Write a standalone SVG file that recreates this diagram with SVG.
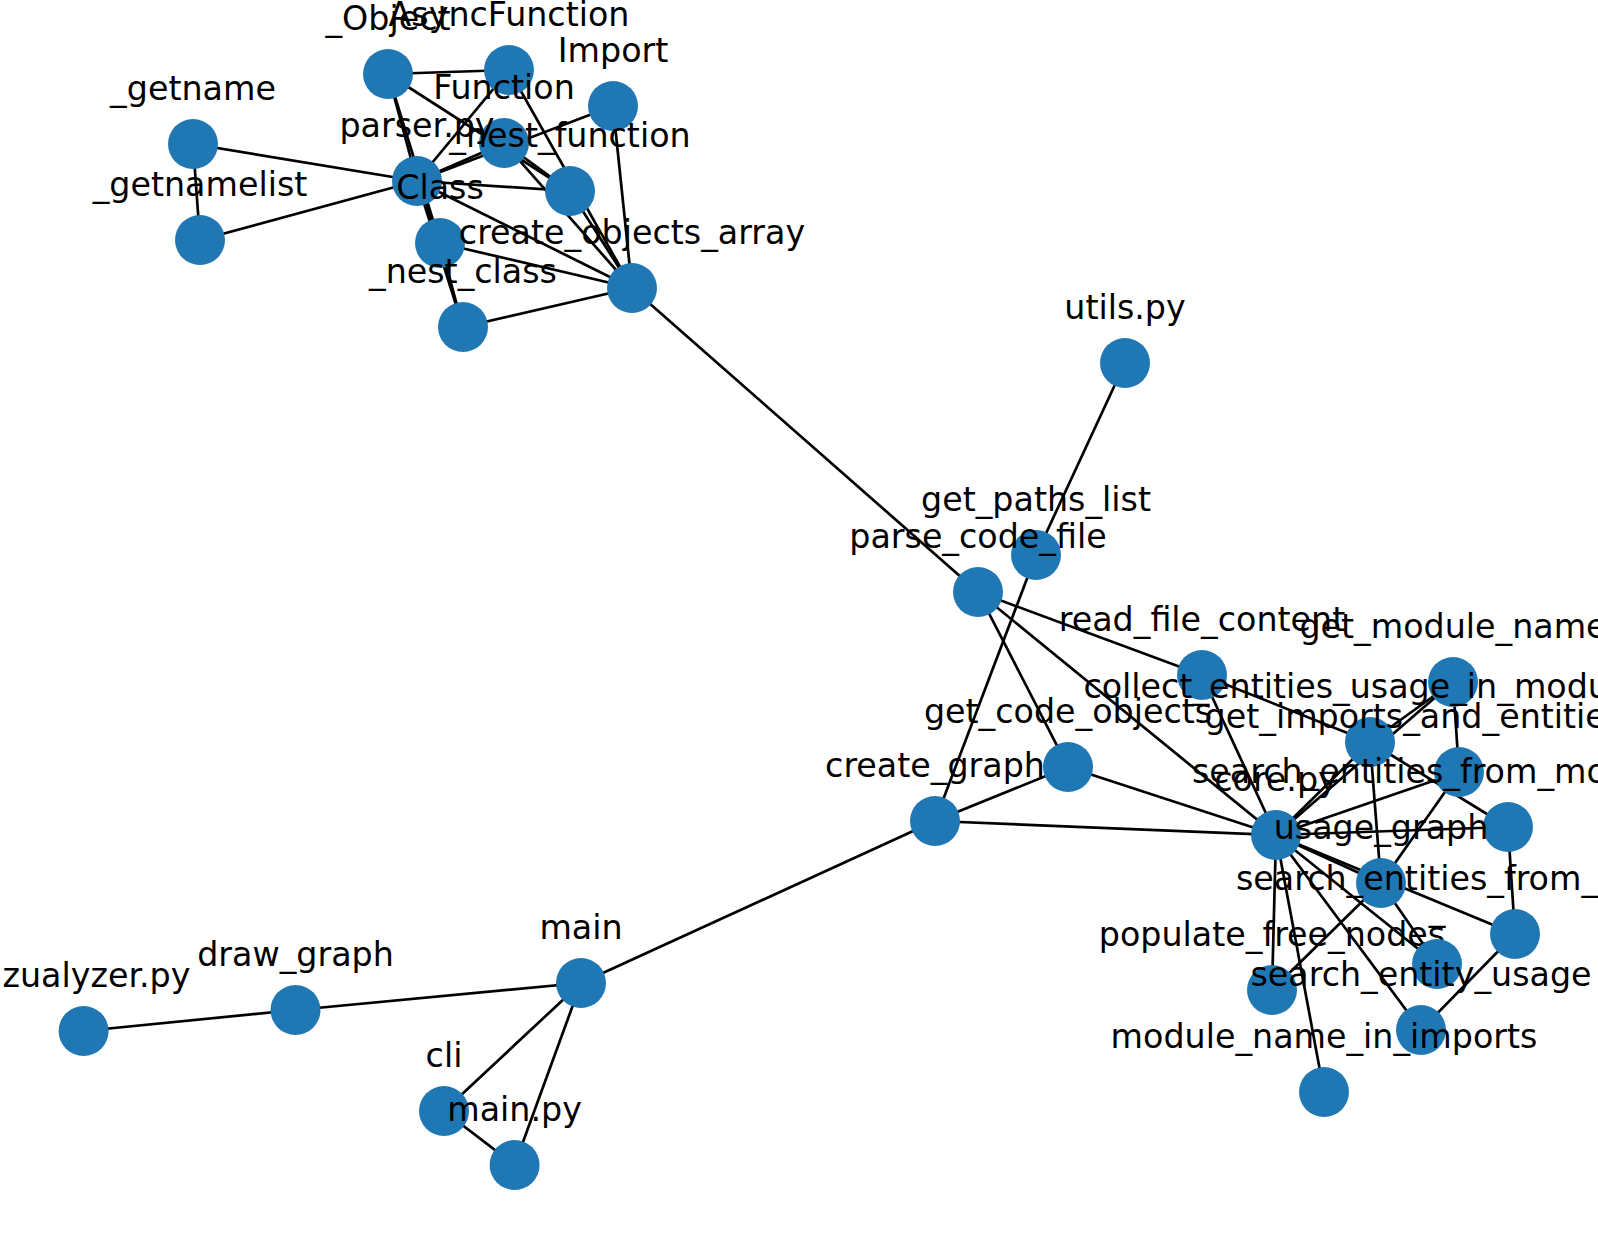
<svg xmlns="http://www.w3.org/2000/svg" width="1598" height="1234" viewBox="0 0 1598 1234">
<style>
.e line{stroke:#000;stroke-width:2.7}
.n circle{fill:#1f77b4}
.n text{font-family:"DejaVu Sans",sans-serif;font-size:33.3px;fill:#000;text-anchor:middle}
.n text.s{text-anchor:start}
</style>
<rect width="1598" height="1234" fill="#fff"/>
<g id="connectors" class="e">
<line x1="193" y1="144" x2="200" y2="240"/>
<line x1="193" y1="144" x2="417" y2="181"/>
<line x1="200" y1="240" x2="417" y2="181"/>
<line x1="388" y1="74" x2="509" y2="70"/>
<line x1="388" y1="74" x2="417" y2="181"/>
<line x1="388" y1="74" x2="440" y2="243"/>
<line x1="388" y1="74" x2="570" y2="191"/>
<line x1="417" y1="181" x2="509" y2="70"/>
<line x1="417" y1="181" x2="504" y2="143"/>
<line x1="417" y1="181" x2="613" y2="106"/>
<line x1="417" y1="181" x2="570" y2="191"/>
<line x1="417" y1="181" x2="440" y2="243"/>
<line x1="417" y1="181" x2="463" y2="327"/>
<line x1="417" y1="181" x2="632" y2="288"/>
<line x1="440" y1="243" x2="463" y2="327"/>
<line x1="440" y1="243" x2="632" y2="288"/>
<line x1="463" y1="327" x2="632" y2="288"/>
<line x1="504" y1="143" x2="570" y2="191"/>
<line x1="504" y1="143" x2="632" y2="288"/>
<line x1="509" y1="70" x2="632" y2="288"/>
<line x1="613" y1="106" x2="632" y2="288"/>
<line x1="570" y1="191" x2="632" y2="288"/>
<line x1="632" y1="288" x2="978" y2="592"/>
<line x1="1125" y1="363" x2="1036" y2="555"/>
<line x1="1036" y1="555" x2="935" y2="821"/>
<line x1="978" y1="592" x2="1202" y2="675"/>
<line x1="978" y1="592" x2="1068" y2="767"/>
<line x1="978" y1="592" x2="1276" y2="835"/>
<line x1="1202" y1="675" x2="1370" y2="742"/>
<line x1="1202" y1="675" x2="1276" y2="835"/>
<line x1="1068" y1="767" x2="935" y2="821"/>
<line x1="1068" y1="767" x2="1276" y2="835"/>
<line x1="935" y1="821" x2="1276" y2="835"/>
<line x1="935" y1="821" x2="581" y2="983"/>
<line x1="1276" y1="835" x2="1370" y2="742"/>
<line x1="1276" y1="835" x2="1453" y2="682"/>
<line x1="1370" y1="742" x2="1453" y2="682"/>
<line x1="1276" y1="835" x2="1459" y2="772"/>
<line x1="1276" y1="835" x2="1508" y2="827"/>
<line x1="1276" y1="835" x2="1381" y2="883"/>
<line x1="1276" y1="835" x2="1515" y2="934"/>
<line x1="1276" y1="835" x2="1437" y2="964"/>
<line x1="1276" y1="835" x2="1421" y2="1030"/>
<line x1="1276" y1="835" x2="1272" y2="990"/>
<line x1="1276" y1="835" x2="1324" y2="1092"/>
<line x1="1453" y1="682" x2="1459" y2="772"/>
<line x1="1370" y1="742" x2="1381" y2="883"/>
<line x1="1370" y1="742" x2="1508" y2="827"/>
<line x1="1459" y1="772" x2="1381" y2="883"/>
<line x1="1508" y1="827" x2="1515" y2="934"/>
<line x1="1381" y1="883" x2="1437" y2="964"/>
<line x1="1381" y1="883" x2="1272" y2="990"/>
<line x1="1515" y1="934" x2="1421" y2="1030"/>
<line x1="581" y1="983" x2="295.5" y2="1010"/>
<line x1="295.5" y1="1010" x2="83.6" y2="1031"/>
<line x1="581" y1="983" x2="444" y2="1111"/>
<line x1="581" y1="983" x2="514.6" y2="1165"/>
<line x1="444" y1="1111" x2="514.6" y2="1165"/>
</g>
<g class="n">
<g id="n_Object"><circle cx="388" cy="74" r="25"/><text x="388" y="30">_Object</text></g>
<g id="nAsyncFunction"><circle cx="509" cy="70" r="25"/><text x="509" y="26">AsyncFunction</text></g>
<g id="nImport"><circle cx="613" cy="106" r="25"/><text x="613" y="62">Import</text></g>
<g id="nFunction"><circle cx="504" cy="143" r="25"/><text x="504" y="99">Function</text></g>
<g id="n_nest_function"><circle cx="570" cy="191" r="25"/><text x="570" y="147">_nest_function</text></g>
<g id="nparser"><circle cx="417" cy="181" r="25"/><text x="417" y="137">parser.py</text></g>
<g id="nClass"><circle cx="440" cy="243" r="25"/><text x="440" y="199">Class</text></g>
<g id="n_nest_class"><circle cx="463" cy="327" r="25"/><text x="463" y="283">_nest_class</text></g>
<g id="ncreate_objects_array"><circle cx="632" cy="288" r="25"/><text x="632" y="244">create_objects_array</text></g>
<g id="n_getname"><circle cx="193" cy="144" r="25"/><text x="193" y="100">_getname</text></g>
<g id="n_getnamelist"><circle cx="200" cy="240" r="25"/><text x="200" y="196">_getnamelist</text></g>
<g id="nutils"><circle cx="1125" cy="363" r="25"/><text x="1125" y="319">utils.py</text></g>
<g id="nget_paths_list"><circle cx="1036" cy="555" r="25"/><text x="1036" y="511">get_paths_list</text></g>
<g id="nparse_code_file"><circle cx="978" cy="592" r="25"/><text x="978" y="548">parse_code_file</text></g>
<g id="nread_file_content"><circle cx="1202" cy="675" r="25"/><text x="1202" y="631">read_file_content</text></g>
<g id="nget_module_name"><circle cx="1453" cy="682" r="25"/><text x="1453" y="638">get_module_name</text></g>
<g id="ncollect"><circle cx="1370" cy="742" r="25"/><text class="s" x="1083.4" y="698">collect_entities_usage_in_modu</text></g>
<g id="nget_imports"><circle cx="1459" cy="772" r="25"/><text class="s" x="1204.6" y="728">get_imports_and_entitie</text></g>
<g id="nget_code_objects"><circle cx="1068" cy="767" r="25"/><text x="1068" y="723">get_code_objects</text></g>
<g id="ncreate_graph"><circle cx="935" cy="821" r="25"/><text x="935" y="777">create_graph</text></g>
<g id="nsearch_mo"><circle cx="1508" cy="827" r="25"/><text class="s" x="1192" y="783">search_entities_from_mo</text></g>
<g id="ncore"><circle cx="1276" cy="835" r="25"/><text x="1276" y="791">core.py</text></g>
<g id="nusage_graph"><circle cx="1381" cy="883" r="25"/><text x="1381" y="839">usage_graph</text></g>
<g id="nsearch_from"><circle cx="1515" cy="934" r="25"/><text class="s" x="1236" y="890">search_entities_from_</text></g>
<g id="npopulate_free_nodes"><circle cx="1272" cy="990" r="25"/><text x="1272" y="946">populate_free_nodes</text></g>
<g id="nunderscore"><circle cx="1437" cy="964" r="25"/><text x="1437" y="920">_</text></g>
<g id="nsearch_entity_usage"><circle cx="1421" cy="1030" r="25"/><text x="1421" y="986">search_entity_usage</text></g>
<g id="nmodule_name_in_imports"><circle cx="1324" cy="1092" r="25"/><text x="1324" y="1048">module_name_in_imports</text></g>
<g id="nmain"><circle cx="581" cy="983" r="25"/><text x="581" y="939">main</text></g>
<g id="ndraw_graph"><circle cx="295.5" cy="1010" r="25"/><text x="295.5" y="966">draw_graph</text></g>
<g id="nvizualyzer"><circle cx="83.6" cy="1031" r="25"/><text class="s" x="2.5" y="987">zualyzer.py</text></g>
<g id="ncli"><circle cx="444" cy="1111" r="25"/><text x="444" y="1067">cli</text></g>
<g id="nmain_py"><circle cx="514.6" cy="1165" r="25"/><text x="514.6" y="1121">main.py</text></g>
</g>
</svg>
